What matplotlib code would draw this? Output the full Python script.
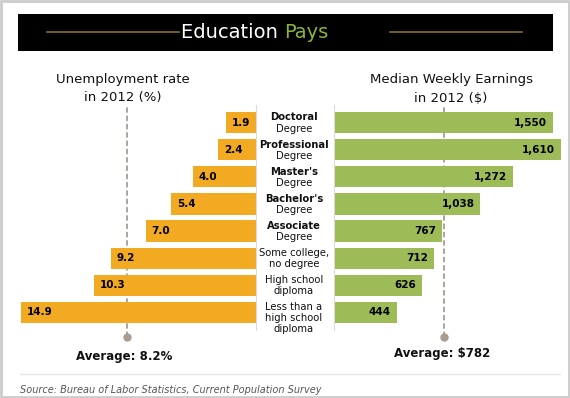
import matplotlib
matplotlib.use("Agg")
import matplotlib.pyplot as plt
from matplotlib.patches import Rectangle
from matplotlib import transforms

# data
categories = [("Doctoral", "Degree"), ("Professional", "Degree"), ("Master's", "Degree"),
              ("Bachelor's", "Degree"), ("Associate", "Degree"),
              ("Some college,", "no degree"), ("High school", "diploma"),
              ("Less than a", "high school", "diploma")]
bold_first = [True, True, True, True, True, False, False, False]
unemployment = [1.9, 2.4, 4.0, 5.4, 7.0, 9.2, 10.3, 14.9]
earnings = [1550, 1610, 1272, 1038, 767, 712, 626, 444]
avg_unemployment = 8.2
avg_earnings = 782

ORANGE = "#F1AA22"
GREEN = "#9DBB57"
AVG = "#A99D91"

W, H = 570, 398
fig = plt.figure(figsize=(W / 100, H / 100), dpi=100, facecolor="white")

# background layer in pixel coords
bg = fig.add_axes([0, 0, 1, 1])
bg.set_xlim(0, W)
bg.set_ylim(H, 0)
bg.axis("off")
bg.add_patch(Rectangle((1, 1), W - 2, H - 2, fill=False, ec="#cccccc", lw=2))
bg.add_patch(Rectangle((18, 14), 535, 37, fc="black", ec="none"))
bg.plot([47, 179], [32, 32], color="#8C6D22", lw=1.2)
bg.plot([390, 522], [32, 32], color="#8C6D22", lw=1.2)
bg.text(284, 33, "Education ", color="white", fontsize=14, ha="right", va="center")
bg.text(284, 33, "Pays", color="#8DB33A", fontsize=14, ha="left", va="center")
bg.text(123, 88, "Unemployment rate\nin 2012 (%)", fontsize=9.5, ha="center", va="center",
        color="#111111", linespacing=1.5)
bg.text(451, 89, "Median Weekly Earnings\nin 2012 ($)", fontsize=9.5, ha="center", va="center",
        color="#111111", linespacing=1.5)
bg.plot([20, 560], [374, 374], color="#e6e6e6", lw=1)
bg.text(20, 390, "Source: Bureau of Labor Statistics, Current Population Survey",
        fontsize=7, style="italic", color="#555555", va="center", ha="left")

# bar axes
top_px, bot_px = 105, 330
row0, step = 122.5, 27.14
ylo = (bot_px - row0) / step
yhi = (top_px - row0) / step


def make_ax(x0, x1):
    a = fig.add_axes([x0 / W, (H - bot_px) / H, (x1 - x0) / W, (bot_px - top_px) / H])
    a.patch.set_alpha(0)
    a.set_ylim(ylo, yhi)
    a.set_xticks([])
    a.set_yticks([])
    for s in a.spines.values():
        s.set_visible(False)
    return a


ypos = list(range(len(categories)))

axL = make_ax(21, 256)
axL.set_xlim(max(unemployment), 0)
axL.spines["right"].set_visible(True)
axL.spines["right"].set_color("#dadada")
axL.spines["right"].set_linewidth(0.8)
axL.barh(ypos, unemployment, height=0.78, color=ORANGE, zorder=2)
for y, v in zip(ypos, unemployment):
    axL.annotate(f"{v:.1f}", xy=(v, y), xytext=(6, 0), textcoords="offset pixels",
                 ha="left", va="center", fontsize=7.5, fontweight="bold", color="black", zorder=3)

axR = make_ax(334, 561)
axR.set_xlim(0, max(earnings))
axR.spines["left"].set_visible(True)
axR.spines["left"].set_color("#dadada")
axR.spines["left"].set_linewidth(0.8)
axR.barh(ypos, earnings, height=0.78, color=GREEN, zorder=2)
for y, v in zip(ypos, earnings):
    axR.annotate(f"{v:,}", xy=(v, y), xytext=(-6, 0), textcoords="offset pixels",
                 ha="right", va="center", fontsize=7.5, fontweight="bold", color="black", zorder=3)

# average markers
y_line_top = (107 - row0) / step
y_dot = (337 - row0) / step
for a, avg, label, dy in [(axL, avg_unemployment, "Average: 8.2%", -20),
                          (axR, avg_earnings, "Average: $782", -17)]:
    a.plot([avg, avg], [y_dot, y_line_top], color=AVG, lw=1.3, ls=(0, (3, 1.6)),
           zorder=1, clip_on=False)
    a.plot([avg], [y_dot], "o", color=AVG, ms=5, zorder=1, clip_on=False)
    a.annotate(label, xy=(avg, y_dot), xytext=(-2, dy), textcoords="offset pixels",
               ha="center", va="center", fontsize=8.5, fontweight="bold", color="#111111",
               annotation_clip=False)

# category labels between the two bar groups
tr = transforms.blended_transform_factory(fig.transFigure, axL.transData)
for y, lines, b in zip(ypos, categories, bold_first):
    for k, line in enumerate(lines):
        fig.text(294 / W, y, line, transform=tr + transforms.Affine2D().translate(0, 5 - 11 * k),
                 ha="center", va="center", fontsize=7.2, color="#111111",
                 fontweight="bold" if (b and k == 0) else "normal")

fig.savefig("out.png", dpi=100, facecolor="white")
